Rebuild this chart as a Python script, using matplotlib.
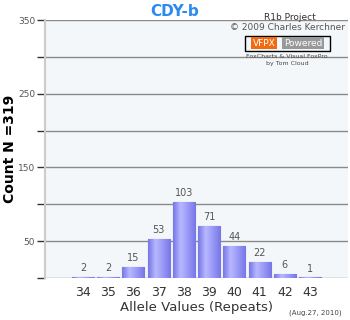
import numpy as np
import matplotlib.pyplot as plt
from matplotlib.colors import LinearSegmentedColormap

alleles = [34, 35, 36, 37, 38, 39, 40, 41, 42, 43]
counts = [2, 2, 15, 53, 103, 71, 44, 22, 6, 1]
ytick_labels = [50, 150, 250, 350]

fig = plt.figure(figsize=(3.5, 3.2), dpi=100)
ax = fig.add_axes([45 / 350, 42 / 320, 303 / 350, 258 / 320])
ax.set_facecolor('#f4f7f9')

# grid lines every 50
for v in range(0, 351, 50):
    ax.axhline(v, color='#8a8a8a', lw=1.0, zorder=1)

cmap = LinearSegmentedColormap.from_list('bar', ['#7676e8', '#b8b8ff', '#9898f6', '#7676e8'])
grad = np.linspace(0, 1, 64).reshape(1, -1)

bars = ax.bar(alleles, counts, width=0.88, color='#8c8cf2', edgecolor='#7272e2', lw=0.8, zorder=2)
for b, c in zip(bars, counts):
    x0 = b.get_x()
    im = ax.imshow(grad, cmap=cmap, extent=[x0, x0 + b.get_width(), 0, c],
                   aspect='auto', zorder=2.5)
    im.set_clip_path(b)
    ax.text(b.get_x() + b.get_width() / 2, c + 5, str(c), ha='center', va='bottom',
            fontsize=7, color='#555555', zorder=3)
ax.set_xlim(32.5, 44.5)
ax.set_ylim(0, 350)

for s in ['top', 'right', 'bottom']:
    ax.spines[s].set_visible(False)
ax.spines['left'].set_color('#cccccc')
ax.spines['left'].set_linewidth(1.5)

ax.set_yticks(range(0, 351, 50))
ax.set_yticklabels(['' if v not in ytick_labels else str(v) for v in range(0, 351, 50)],
                   fontsize=6.5, color='#555555')
ax.tick_params(axis='y', length=6, width=1, color='#333333', pad=1)
ax.set_xticks(alleles)
ax.set_xticklabels([str(a) for a in alleles], fontsize=9, color='#333333')
ax.tick_params(axis='x', length=0, pad=6)

ax.set_xlabel('Allele Values (Repeats)', fontsize=9.5, color='#333333', labelpad=1)
ax.set_ylabel('Count N =319', fontsize=10, fontweight='bold', color='black')
ax.yaxis.set_label_coords(-0.092, 0.5)

fig.text(175 / 350, 1 - 12 / 320, 'CDY-b', ha='center', va='center', fontsize=11,
         fontweight='bold', color='#2a8af0')
fig.text(290 / 350, 1 - 17 / 320, 'R1b Project', ha='center', va='center', fontsize=6.5, color='#333333')
fig.text(287 / 350, 1 - 28 / 320, '\u00a9 2009 Charles Kerchner', ha='center', va='center',
         fontsize=6.5, color='#555555')
fig.text(264 / 350, 1 - 43 / 320, 'VFPX', ha='center', va='center', fontsize=6.5, color='white',
         bbox=dict(boxstyle='square,pad=0.15', fc='#f26b10', ec='none'))
fig.text(303 / 350, 1 - 43 / 320, 'Powered', ha='center', va='center', fontsize=6.5, color='white',
         bbox=dict(boxstyle='square,pad=0.15', fc='#999999', ec='none'))
fig.patches.append(plt.Rectangle((245 / 350, 1 - 51 / 320), 85 / 350, 15 / 320,
                                 transform=fig.transFigure, fill=False, ec='black', lw=1))
fig.text(287 / 350, 1 - 56 / 320, 'FoxCharts & Visual FoxPro', ha='center', va='center',
         fontsize=4.5, color='#444444')
fig.text(287 / 350, 1 - 64 / 320, 'by Tom Cloud', ha='center', va='center', fontsize=4.5, color='#444444')
fig.text(315 / 350, 1 - 313 / 320, '(Aug.27, 2010)', ha='center', va='center', fontsize=5, color='#444444')

fig.savefig('out.png', dpi=100)
